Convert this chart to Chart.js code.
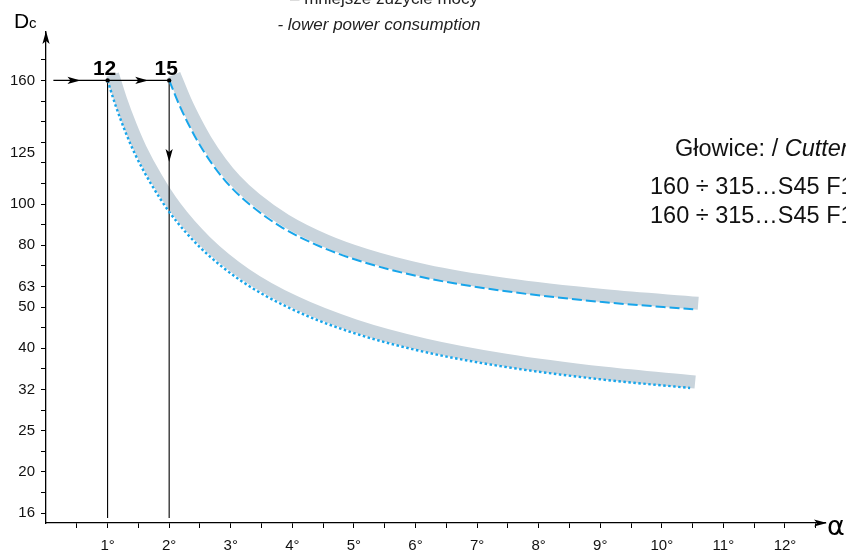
<!DOCTYPE html>
<html>
<head>
<meta charset="utf-8">
<script src="https://cdn.jsdelivr.net/npm/chart.js@4.4.1/dist/chart.umd.min.js"></script>
<style>
html, body { margin: 0; padding: 0; background: #fff; }
#wrap { width: 846px; height: 556px; }
</style>
</head>
<body>
<div id="wrap"><canvas id="chart"></canvas></div>
<script>
// y axis of the original is not uniform: each label sits on a fixed tick slot
var yTickValues = [16, 20, 25, 32, 40, 50, 63, 80, 100, 125, 160];
var yTickSlots = [0, 2, 4, 6, 8, 10, 11, 13, 15, 17.5, 21];

// cutters 15 (dashed) and 12 (dotted): alpha [deg] -> Dc
var upperAlpha = [2.0, 2.18, 2.35, 2.51, 2.75, 2.99, 3.32, 3.81, 4.46, 5.11, 6.08, 7.38, 9.0, 10.51];
var upperDc = [160, 146, 135.7, 127.7, 116.7, 108, 99.4, 88.5, 79.3, 72.9, 66.6, 60.2, 53, 49.4];
var lowerAlpha = [1.0, 1.13, 1.29, 1.45, 1.70, 2.02, 2.51, 3.16, 3.97, 4.94, 6.08, 7.38, 9.0, 10.46];
var lowerDc = [160, 146.8, 134.1, 123.8, 109.4, 95, 78.8, 65.2, 49.6, 43.7, 39.4, 36.3, 33.8, 32.25];

// reading guide: start at Dc 160, go right to the two cutters, then down
var markAlpha = [1, 2];
var markLabels = ['12', '15'];
var markDc = 160;
var guideStartAlpha = 0.12;
var arrowAlpha = [0.56, 1.66];
var downArrowDc = 120;

function dcToSlot(dc) {
  for (var i = 0; i < yTickValues.length - 1; i++) {
    var a = yTickValues[i], b = yTickValues[i + 1];
    if (dc <= b || i === yTickValues.length - 2) {
      var f = Math.log(dc / a) / Math.log(b / a);
      return yTickSlots[i] + f * (yTickSlots[i + 1] - yTickSlots[i]);
    }
  }
}
function pts(xs, ys) {
  return xs.map(function (x, i) { return { x: x, y: dcToSlot(ys[i]) }; });
}

var upperPts = pts(upperAlpha, upperDc);
var lowerPts = pts(lowerAlpha, lowerDc);
var slot160 = dcToSlot(markDc);
var axisBottomSlot = -0.24;

var BLUE = '#18a5ea';
var BAND = '#c9d4dc';

var bandShift = {
  id: 'bandShift',
  beforeDatasetDraw: function (chart, args) {
    if (args.meta._dataset.band) {
      chart.ctx.save();
      chart.ctx.translate(5, -6);
    }
  },
  afterDatasetDraw: function (chart, args) {
    if (args.meta._dataset.band) chart.ctx.restore();
  }
};

function arrowHead(ctx, x, y, dir) {
  ctx.save();
  ctx.translate(x, y);
  ctx.rotate(dir);
  ctx.beginPath();
  ctx.moveTo(0, 0);
  ctx.lineTo(-13, -3.6);
  ctx.lineTo(-10, 0);
  ctx.lineTo(-13, 3.6);
  ctx.closePath();
  ctx.fill();
  ctx.restore();
}

var decor = {
  id: 'decor',
  afterDraw: function (chart) {
    var ctx = chart.ctx, xs = chart.scales.x, ys = chart.scales.y, ca = chart.chartArea;
    ctx.save();
    ctx.fillStyle = '#000';
    // axis arrows
    arrowHead(ctx, ca.left, ca.top - 1, -Math.PI / 2);
    arrowHead(ctx, ca.right + 2, ca.bottom, 0);
    // guide arrows
    var yMark = ys.getPixelForValue(slot160);
    arrowAlpha.forEach(function (a) { arrowHead(ctx, xs.getPixelForValue(a), yMark, 0); });
    arrowHead(ctx, xs.getPixelForValue(markAlpha[1]), ys.getPixelForValue(dcToSlot(downArrowDc)), Math.PI / 2);
    // dots + labels
    ctx.font = 'bold 21px "Liberation Sans", Arial, sans-serif';
    ctx.textAlign = 'center';
    ctx.textBaseline = 'alphabetic';
    markAlpha.forEach(function (a, i) {
      var px = xs.getPixelForValue(a);
      ctx.beginPath();
      ctx.arc(px, yMark, 2.2, 0, Math.PI * 2);
      ctx.fill();
      ctx.fillText(markLabels[i], px - 3, yMark - 5);
    });
    // axis titles
    ctx.textAlign = 'left';
    ctx.font = '21px "Liberation Sans", Arial, sans-serif';
    ctx.fillText('D', 14, 28);
    ctx.font = '15px "Liberation Sans", Arial, sans-serif';
    ctx.fillText('c', 29, 28);
    ctx.font = '27px "DejaVu Sans", sans-serif';
    ctx.fillText('α', 827, 535);
    // top note
    ctx.textAlign = 'center';
    ctx.fillStyle = '#222';
    ctx.font = '17px "Liberation Sans", Arial, sans-serif';
    ctx.fillText('– mniejsze zużycie mocy', 384, 4);
    ctx.font = 'italic 17px "Liberation Sans", Arial, sans-serif';
    ctx.fillText('- lower power consumption', 379, 30);
    // right note
    ctx.textAlign = 'left';
    ctx.fillStyle = '#111';
    ctx.font = '23.5px "Liberation Sans", Arial, sans-serif';
    ctx.fillText('Głowice: / ', 675, 156);
    var w = ctx.measureText('Głowice: / ').width;
    ctx.font = 'italic 23.5px "Liberation Sans", Arial, sans-serif';
    ctx.fillText('Cutters', 675 + w, 156);
    ctx.font = '23.5px "Liberation Sans", Arial, sans-serif';
    ctx.fillText('160 ÷ 315…S45 F15', 650, 194);
    ctx.fillText('160 ÷ 315…S45 F12', 650, 223);
    ctx.restore();
  }
};

new Chart(document.getElementById('chart'), {
  type: 'line',
  data: {
    datasets: [
      { data: upperPts, borderColor: BLUE, borderWidth: 2, borderDash: [10, 4], order: 0 },
      { data: lowerPts, borderColor: BLUE, borderWidth: 2.4, borderDash: [2.5, 2.5], order: 0 },
      { data: upperPts, borderColor: BAND, borderWidth: 13, borderCapStyle: 'butt', band: true, order: 2 },
      { data: lowerPts, borderColor: BAND, borderWidth: 13, borderCapStyle: 'butt', band: true, order: 2 },
      { data: [{ x: guideStartAlpha, y: slot160 }, { x: markAlpha[1], y: slot160 }], borderColor: '#000', borderWidth: 1.1, order: 1 },
      { data: [{ x: markAlpha[0], y: slot160 }, { x: markAlpha[0], y: axisBottomSlot }], borderColor: '#000', borderWidth: 1.1, order: 1 },
      { data: [{ x: markAlpha[1], y: slot160 }, { x: markAlpha[1], y: axisBottomSlot }], borderColor: '#000', borderWidth: 1.1, order: 1 }
    ]
  },
  options: {
    responsive: true,
    maintainAspectRatio: false,
    animation: false,
    clip: false,
    cubicInterpolationMode: 'monotone',
    elements: { point: { radius: 0 }, line: { fill: false } },
    layout: { padding: { top: 32, right: 21, left: 0, bottom: 0 } },
    plugins: { legend: { display: false }, tooltip: { enabled: false } },
    scales: {
      x: {
        type: 'linear',
        min: 0,
        max: 12.65,
        afterBuildTicks: function (s) {
          var t = [];
          for (var v = 0.5; v <= 12.5; v += 0.5) t.push({ value: v });
          s.ticks = t;
        },
        afterFit: function (s) { s.height = 33; },
        grid: { drawOnChartArea: false, tickLength: 5, tickColor: '#000', tickWidth: 1 },
        border: { display: true, color: '#000', width: 1.3 },
        ticks: {
          autoSkip: false,
          maxRotation: 0,
          padding: 9,
          color: '#111',
          font: { family: '"Liberation Sans", Arial, sans-serif', size: 15 },
          callback: function (v) { return Number.isInteger(v) ? v + '°' : ''; }
        }
      },
      y: {
        type: 'linear',
        min: -0.485,
        max: 23.35,
        afterBuildTicks: function (s) {
          var t = [];
          for (var v = 0; v <= 22; v++) t.push({ value: v });
          t.push({ value: 17.5 });
          s.ticks = t;
        },
        afterFit: function (s) { s.width = 46; },
        grid: {
          drawOnChartArea: false,
          tickLength: 5,
          tickWidth: 1,
          tickColor: function (c) { return c.tick && c.tick.value === 17.5 ? 'rgba(0,0,0,0)' : '#000'; }
        },
        border: { display: true, color: '#000', width: 1.3 },
        ticks: {
          autoSkip: false,
          padding: 6,
          color: '#111',
          font: { family: '"Liberation Sans", Arial, sans-serif', size: 15 },
          callback: function (v) {
            var i = yTickSlots.indexOf(v);
            return i >= 0 ? String(yTickValues[i]) : '';
          }
        }
      }
    }
  },
  plugins: [bandShift, decor]
});
</script>
</body>
</html>
